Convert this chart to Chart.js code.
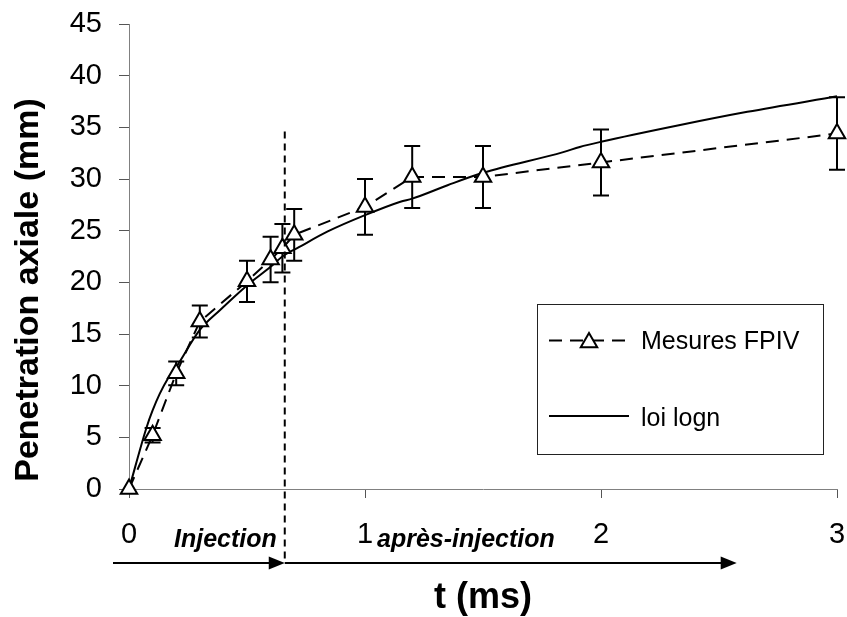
<!DOCTYPE html>
<html>
<head>
<meta charset="utf-8">
<script src="https://cdn.jsdelivr.net/npm/chart.js@4.4.0/dist/chart.umd.min.js"></script>
<style>
  html, body { margin:0; padding:0; background:#fff; overflow:hidden; }
  #wrap { width:847px; height:617px; position:relative; }
  #wrap canvas { display:block; }
</style>
</head>
<body>
<div id="wrap"><canvas id="chartPenetration"></canvas></div>
<script>
// mesures FPIV (t en ms, penetration en mm, barre d'erreur +/-)
const tMesures = [0, 0.1, 0.2, 0.3, 0.5, 0.6, 0.65, 0.7, 1.0, 1.2, 1.5, 2.0, 3.0];
const penMesures = [0, 5.2, 11.2, 16.2, 20.1, 22.2, 23.3, 24.6, 27.3, 30.2, 30.2, 31.6, 34.4];
const errMesures = [0, 0.7, 1.15, 1.55, 2.0, 2.2, 2.35, 2.5, 2.7, 3.0, 3.0, 3.2, 3.5];

// loi logn
const tLoi = [0, 0.075, 0.1, 0.13, 0.165, 0.2, 0.3, 0.385, 0.5, 0.6, 0.65, 0.72, 0.84, 1.0, 1.15, 1.2, 1.35, 1.5, 1.84, 1.91, 2.0, 2.33, 2.62, 3.0];
const penLoi = [0, 6.0, 7.6, 9.2, 10.7, 11.8, 15.4, 17.3, 19.7, 21.5, 22.5, 23.4, 24.9, 26.5, 27.8, 28.1, 29.4, 30.6, 32.6, 33.1, 33.6, 35.2, 36.5, 38.0];

const xTicks = [0, 1, 2, 3];
const yTicks = [0, 5, 10, 15, 20, 25, 30, 35, 40, 45];

const finInjection = 0.66;   // fin de l'injection (ms)
const finFleche = 2.575;     // bout de la fleche apres-injection
const hautTrait = 34.6;      // haut du trait vertical
const labelsPhases = ["Injection", "après-injection"];
const titreX = "t (ms)";
const titreY = "Penetration axiale (mm)";

const FONT = '"Liberation Sans", Arial, sans-serif';

function triangle(ctx, x, y, r){
  let a = 0;
  ctx.beginPath();
  ctx.moveTo(x + Math.sin(a)*r, y - Math.cos(a)*r);
  a += 2*Math.PI/3;
  ctx.lineTo(x + Math.sin(a)*r, y - Math.cos(a)*r);
  a += 2*Math.PI/3;
  ctx.lineTo(x + Math.sin(a)*r, y - Math.cos(a)*r);
  ctx.closePath();
  ctx.fillStyle = "#fff"; ctx.fill();
  ctx.lineWidth = 2; ctx.strokeStyle = "#000"; ctx.stroke();
}

function fleche(ctx, x0, x1, y){
  ctx.beginPath(); ctx.moveTo(x0, y); ctx.lineTo(x1 - 14, y); ctx.stroke();
  ctx.beginPath(); ctx.moveTo(x1, y); ctx.lineTo(x1 - 16, y - 6.5); ctx.lineTo(x1 - 16, y + 6.5); ctx.closePath(); ctx.fill();
}

// pas de marge auto autour des libelles : la zone du graphe est fixee par layout.padding
function sansMarge(s){ s.paddingTop = s.paddingBottom = s.paddingLeft = s.paddingRight = 0; }

const decor = {
  id: "decor",
  beforeDatasetsDraw(chart){
    const {ctx, scales:{x, y}} = chart;
    ctx.save();
    ctx.strokeStyle = "#000"; ctx.lineWidth = 2;
    tMesures.forEach((t, i) => {
      const e = errMesures[i];
      if (!e) return;
      const px = x.getPixelForValue(t);
      const top = y.getPixelForValue(penMesures[i] + e);
      const bot = y.getPixelForValue(penMesures[i] - e);
      ctx.beginPath();
      ctx.moveTo(px, top); ctx.lineTo(px, bot);
      ctx.moveTo(px - 8, top); ctx.lineTo(px + 8, top);
      ctx.moveTo(px - 8, bot); ctx.lineTo(px + 8, bot);
      ctx.stroke();
    });
    ctx.restore();
  },
  afterDraw(chart){
    const {ctx, chartArea:a, scales:{x, y}} = chart;
    const xi = x.getPixelForValue(finInjection);
    const yFl = a.bottom + 74;
    ctx.save();

    // trait vertical fin d'injection
    ctx.strokeStyle = "#000"; ctx.lineWidth = 2; ctx.setLineDash([7, 5]);
    ctx.beginPath(); ctx.moveTo(xi, y.getPixelForValue(hautTrait)); ctx.lineTo(xi, yFl); ctx.stroke();
    ctx.setLineDash([]);

    // fleches
    ctx.fillStyle = "#000"; ctx.lineWidth = 2;
    fleche(ctx, a.left - 16, xi, yFl);
    fleche(ctx, xi, x.getPixelForValue(finFleche), yFl);

    // phases
    ctx.font = "italic bold 25px " + FONT;
    ctx.textBaseline = "alphabetic";
    ctx.textAlign = "right";
    ctx.fillText(labelsPhases[0], xi - 8, a.bottom + 58);
    ctx.textAlign = "left";
    ctx.fillText(labelsPhases[1], x.getPixelForValue(1) + 12, a.bottom + 58);

    // titres
    ctx.font = "bold 36px " + FONT;
    ctx.textAlign = "center"; ctx.textBaseline = "middle";
    ctx.fillText(titreX, (a.left + a.right) / 2, 598);
    ctx.save();
    ctx.translate(29, 290);
    ctx.rotate(-Math.PI / 2);
    ctx.font = "bold 34px " + FONT;
    ctx.fillText(titreY, 0, 0);
    ctx.restore();

    // legende
    const lx = 537.5, ly = 304.5, lw = 286, lh = 150;
    ctx.lineWidth = 1; ctx.strokeStyle = "#222";
    ctx.strokeRect(lx, ly, lw, lh);
    const y1 = 340.5, y2 = 416;
    ctx.strokeStyle = "#000"; ctx.lineWidth = 2;
    ctx.setLineDash([13, 8]);
    ctx.beginPath(); ctx.moveTo(549, y1); ctx.lineTo(629, y1); ctx.stroke();
    ctx.setLineDash([]);
    triangle(ctx, 589, y1 + 2, 9.5);
    ctx.beginPath(); ctx.moveTo(549, y2); ctx.lineTo(629, y2); ctx.stroke();
    ctx.fillStyle = "#000";
    ctx.font = "25px " + FONT;
    ctx.textAlign = "left"; ctx.textBaseline = "middle";
    ctx.fillText(chart.data.datasets[0].label, 641, y1 + 2);
    ctx.fillText(chart.data.datasets[1].label, 641, y2 + 3);
    ctx.restore();
  }
};

new Chart(document.getElementById("chartPenetration"), {
  type: "line",
  data: {
    datasets: [
      { label: "Mesures FPIV", data: tMesures.map((t, i) => ({x: t, y: penMesures[i]})),
        borderColor: "#000", borderWidth: 2, borderDash: [13, 8], tension: 0, fill: false, clip: false,
        pointStyle: "triangle", pointRadius: 9.5, pointBorderWidth: 2,
        pointBackgroundColor: "#fff", pointBorderColor: "#000" },
      { label: "loi logn", data: tLoi.map((t, i) => ({x: t, y: penLoi[i]})),
        borderColor: "#000", borderWidth: 2, pointRadius: 0, fill: false, clip: false,
        cubicInterpolationMode: "monotone" }
    ]
  },
  options: {
    responsive: true, maintainAspectRatio: false, animation: false, events: [],
    layout: { autoPadding: false, padding: { top: 24, right: 10, bottom: 0, left: 0 } },
    plugins: { legend: { display: false }, tooltip: { enabled: false } },
    scales: {
      x: {
        type: "linear", min: 0, max: 3,
        afterBuildTicks: s => { s.ticks = xTicks.map(v => ({value: v})); },
        afterFit: s => { s.height = 128; sansMarge(s); },
        grid: { drawOnChartArea: false, tickLength: 9, tickColor: "#555" },
        border: { color: "#808080", width: 1 },
        ticks: { color: "#000", font: { family: FONT, size: 29 }, padding: 20 }
      },
      y: {
        min: 0, max: 45,
        afterBuildTicks: s => { s.ticks = yTicks.map(v => ({value: v})); },
        afterFit: s => { s.width = 129; sansMarge(s); },
        grid: { drawOnChartArea: false, tickLength: 10, tickColor: "#555" },
        border: { color: "#808080", width: 1 },
        ticks: { color: "#000", font: { family: FONT, size: 29 }, padding: 17 }
      }
    }
  },
  plugins: [decor]
});
</script>
</body>
</html>
